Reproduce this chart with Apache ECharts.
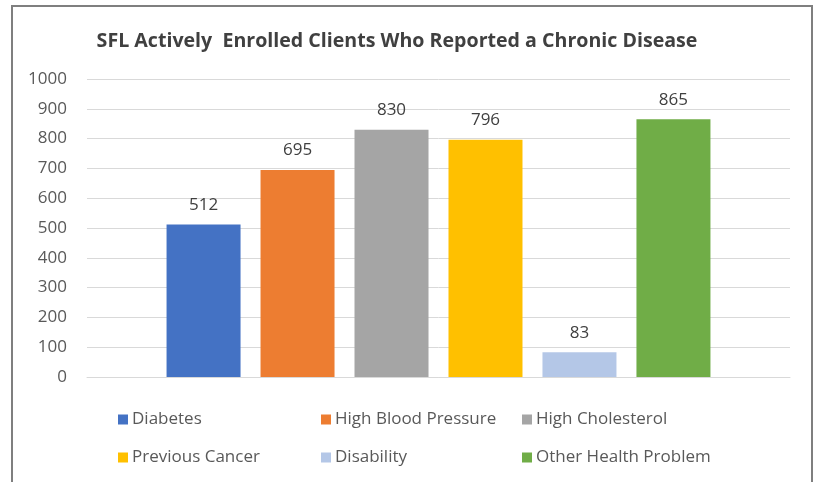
<!DOCTYPE html>
<html><head><meta charset="utf-8">
<script src="https://cdn.jsdelivr.net/npm/echarts@6/dist/echarts.min.js"></script>
<style>html,body{margin:0;padding:0;background:#fff}#c{width:817px;height:482px}</style>
</head><body><div id="c"></div>
<script>
const title = 'SFL Actively  Enrolled Clients Who Reported a Chronic Disease';
const categories = [''];
const seriesNames = ['Diabetes','High Blood Pressure','High Cholesterol','Previous Cancer','Disability','Other Health Problem'];
const seriesValues = [512, 695, 830, 796, 83, 865];
const seriesColors = ['#4472C4','#ED7D31','#A5A5A5','#FFC000','#B4C7E7','#70AD47'];
const yTicks = [0,100,200,300,400,500,600,700,800,900,1000];

const font = '"Open Sans", sans-serif';
const legendPos = [[118,411],[321,411],[522,411],[118,449],[321,449],[522,449]];
const chart = echarts.init(document.getElementById('c'));
chart.setOption({
  animation:false,
  backgroundColor:'#fff',
  title:{text:title,left:397,textAlign:'center',top:31,padding:0,textStyle:{fontFamily:font,fontSize:19.6,fontWeight:'bold',color:'#404040'}},
  grid:{left:87,right:27,top:79,bottom:105,containLabel:false},
  xAxis:{type:'category',data:categories,axisLine:{show:true,lineStyle:{color:'#d9d9d9'}},axisTick:{show:false},axisLabel:{show:false}},
  yAxis:{type:'value',min:yTicks[0],max:yTicks[yTicks.length-1],interval:100,
    axisLine:{show:false},axisTick:{show:false},
    splitLine:{lineStyle:{color:'#d9d9d9',width:1}},
    axisLabel:{margin:20,fontFamily:font,fontSize:17,color:'#595959',formatter:v=>String(v)}},
  legend: seriesNames.map((n,i)=>({data:[n],left:legendPos[i][0],top:legendPos[i][1],padding:0,itemWidth:10,itemHeight:10,icon:'rect',
    textStyle:{fontFamily:font,fontSize:17,color:'#595959',padding:[0,0,0,-1]}})),
  graphic:[{type:'rect',shape:{x:12,y:6,width:800,height:500},style:{fill:'none',stroke:'#7f7f7f',lineWidth:2},silent:true}],
  series: seriesNames.map((n,i)=>({name:n,type:'bar',data:[seriesValues[i]],barWidth:74,barGap:'27%',
    itemStyle:{color:seriesColors[i]},
    label:{show:true,position:'top',distance:11,fontFamily:font,fontSize:17,color:'#404040'}}))
});
</script></body></html>
